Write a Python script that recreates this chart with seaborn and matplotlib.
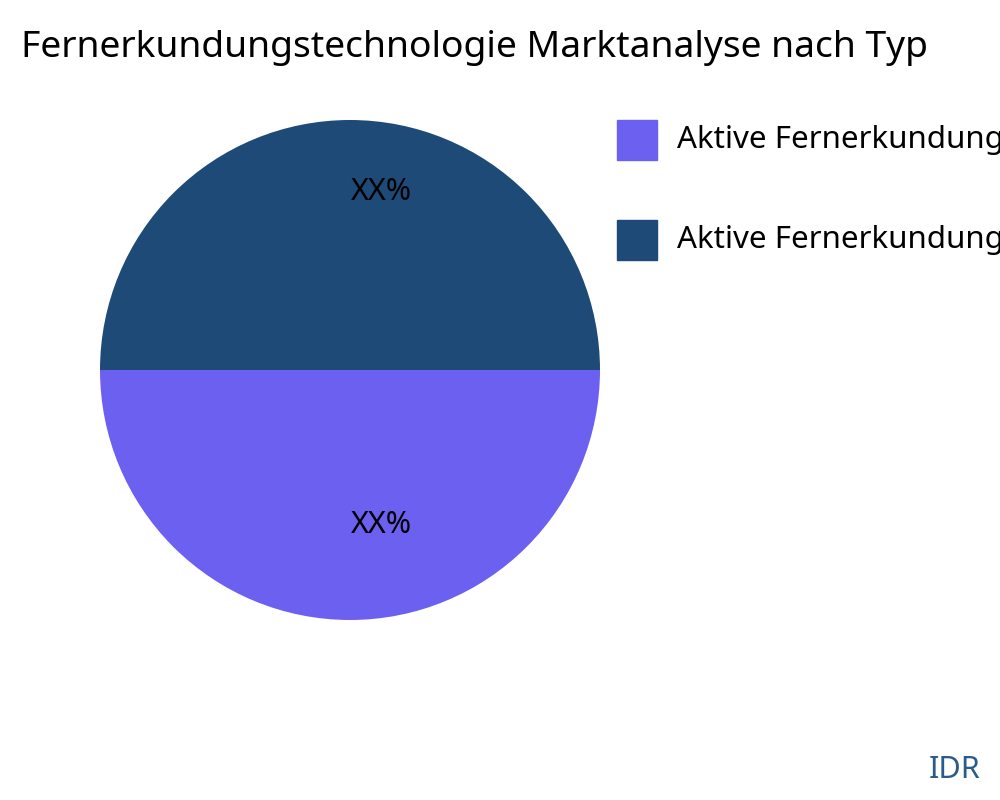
import matplotlib
matplotlib.use("Agg")
import matplotlib.pyplot as plt
import seaborn as sns
from matplotlib.patches import Rectangle

sns.set_theme(style="white")
plt.rcParams['font.family'] = ['Noto Sans', 'DejaVu Sans']

categories = ["Aktive Fernerkundungstechnologie", "Aktive Fernerkundungssysteme"]
values = [50, 50]
labels = ["XX%", "XX%"]
colors = ["#6C60F1", "#1E4A78"]

fig = plt.figure(figsize=(10, 8), dpi=100)
ax = fig.add_axes([0.1, 0.225, 0.5, 0.625])
wedges, _ = ax.pie(values, colors=colors, startangle=0, counterclock=False,
                   radius=1.0, wedgeprops=dict(linewidth=0))
ax.set_xlim(-1, 1); ax.set_ylim(-1, 1)
ax.text(0.124, -0.62, labels[0], ha="center", va="center", fontsize=22, color="black")
ax.text(0.124, 0.71, labels[1], ha="center", va="center", fontsize=22, color="black")

fig.text(0.021, 0.94, "Fernerkundungstechnologie Marktanalyse nach Typ",
         fontsize=26.8, ha="left", va="center", color="black")

for i, (c, col) in enumerate(zip(categories, colors)):
    y = 0.825 - i * 0.125
    fig.patches.append(Rectangle((0.617, y - 0.025), 0.04, 0.05, transform=fig.transFigure,
                                 color=col, figure=fig))
    fig.text(0.677, y, c, fontsize=22.5, ha="left", va="center", color="black")

fig.text(0.98, 0.038, "IDR", fontsize=22, ha="right", va="center", color="#2A5C8A")
fig.savefig("out.png", dpi=100)
